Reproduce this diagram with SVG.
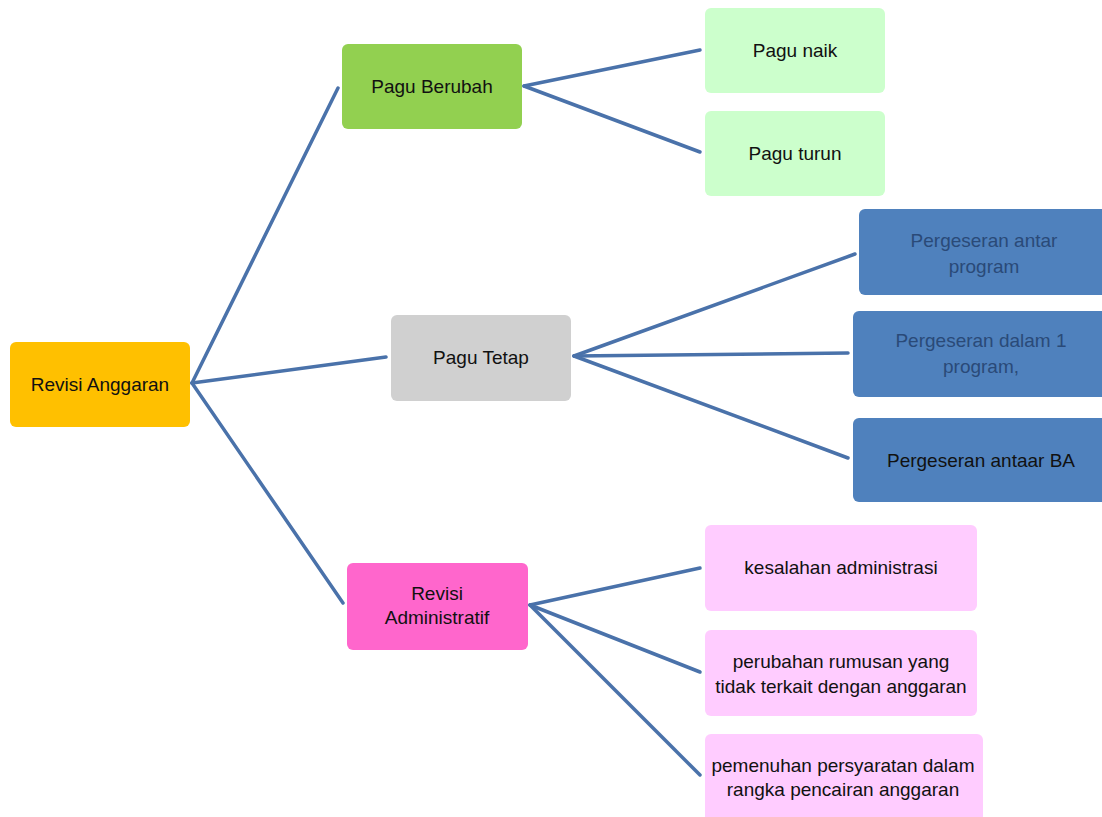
<svg xmlns="http://www.w3.org/2000/svg" width="1102" height="817" viewBox="0 0 1102 817">
<style>
text{font-family:"Liberation Sans",Arial,sans-serif;font-size:19px;fill:#111;text-anchor:middle}
.dk{fill:#2a4a78}
.c line{stroke:#4a72aa;stroke-width:3.5;stroke-linecap:round}
</style>
<rect width="1102" height="817" fill="#fff"/>
<g class="c" id="connectors">
<line x1="192" y1="383" x2="338" y2="88"/>
<line x1="192" y1="383" x2="386" y2="357"/>
<line x1="192" y1="383" x2="343" y2="603"/>
<line x1="524" y1="86" x2="700" y2="50"/>
<line x1="524" y1="86" x2="700" y2="152"/>
<line x1="574" y1="356" x2="855" y2="254"/>
<line x1="574" y1="356" x2="848" y2="353"/>
<line x1="574" y1="356" x2="848" y2="458"/>
<line x1="530" y1="605" x2="700" y2="568"/>
<line x1="530" y1="605" x2="700" y2="672"/>
<line x1="530" y1="605" x2="700" y2="775"/>
</g>
<g id="revisi-anggaran"><rect x="10" y="342" width="180" height="85" rx="6" fill="#ffc000"/><text x="100" y="391">Revisi Anggaran</text></g>
<g id="pagu-berubah"><rect x="342" y="44" width="180" height="85" rx="6" fill="#92d050"/><text x="432" y="93">Pagu Berubah</text></g>
<g id="pagu-naik"><rect x="705" y="8" width="180" height="85" rx="6" fill="#ccffcc"/><text x="795" y="57">Pagu naik</text></g>
<g id="pagu-turun"><rect x="705" y="111" width="180" height="85" rx="6" fill="#ccffcc"/><text x="795" y="160">Pagu turun</text></g>
<g id="pagu-tetap"><rect x="391" y="315" width="180" height="86" rx="6" fill="#d0d0d0"/><text x="481" y="364">Pagu Tetap</text></g>
<g id="antar-program"><rect x="859" y="209" width="250" height="86" rx="6" fill="#4f81bd"/><text class="dk" x="984" y="247">Pergeseran antar</text><text class="dk" x="984" y="273">program</text></g>
<g id="dalam-program"><rect x="853" y="311" width="256" height="86" rx="6" fill="#4f81bd"/><text class="dk" x="981" y="347">Pergeseran dalam 1</text><text class="dk" x="981" y="373">program,</text></g>
<g id="antar-ba"><rect x="853" y="418" width="256" height="84" rx="6" fill="#4f81bd"/><text x="981" y="467">Pergeseran antaar BA</text></g>
<g id="revisi-administratif"><rect x="347" y="563" width="181" height="87" rx="6" fill="#ff66cc"/><text x="437" y="600">Revisi</text><text x="437" y="624">Administratif</text></g>
<g id="kesalahan"><rect x="705" y="525" width="272" height="86" rx="6" fill="#ffccff"/><text x="841" y="574">kesalahan administrasi</text></g>
<g id="perubahan"><rect x="705" y="630" width="272" height="86" rx="6" fill="#ffccff"/><text x="841" y="668">perubahan rumusan yang</text><text x="841" y="693">tidak terkait dengan anggaran</text></g>
<g id="pemenuhan"><rect x="705" y="734" width="278" height="90" rx="6" fill="#ffccff"/><text x="843" y="772">pemenuhan persyaratan dalam</text><text x="843" y="796">rangka pencairan anggaran</text></g>
</svg>
